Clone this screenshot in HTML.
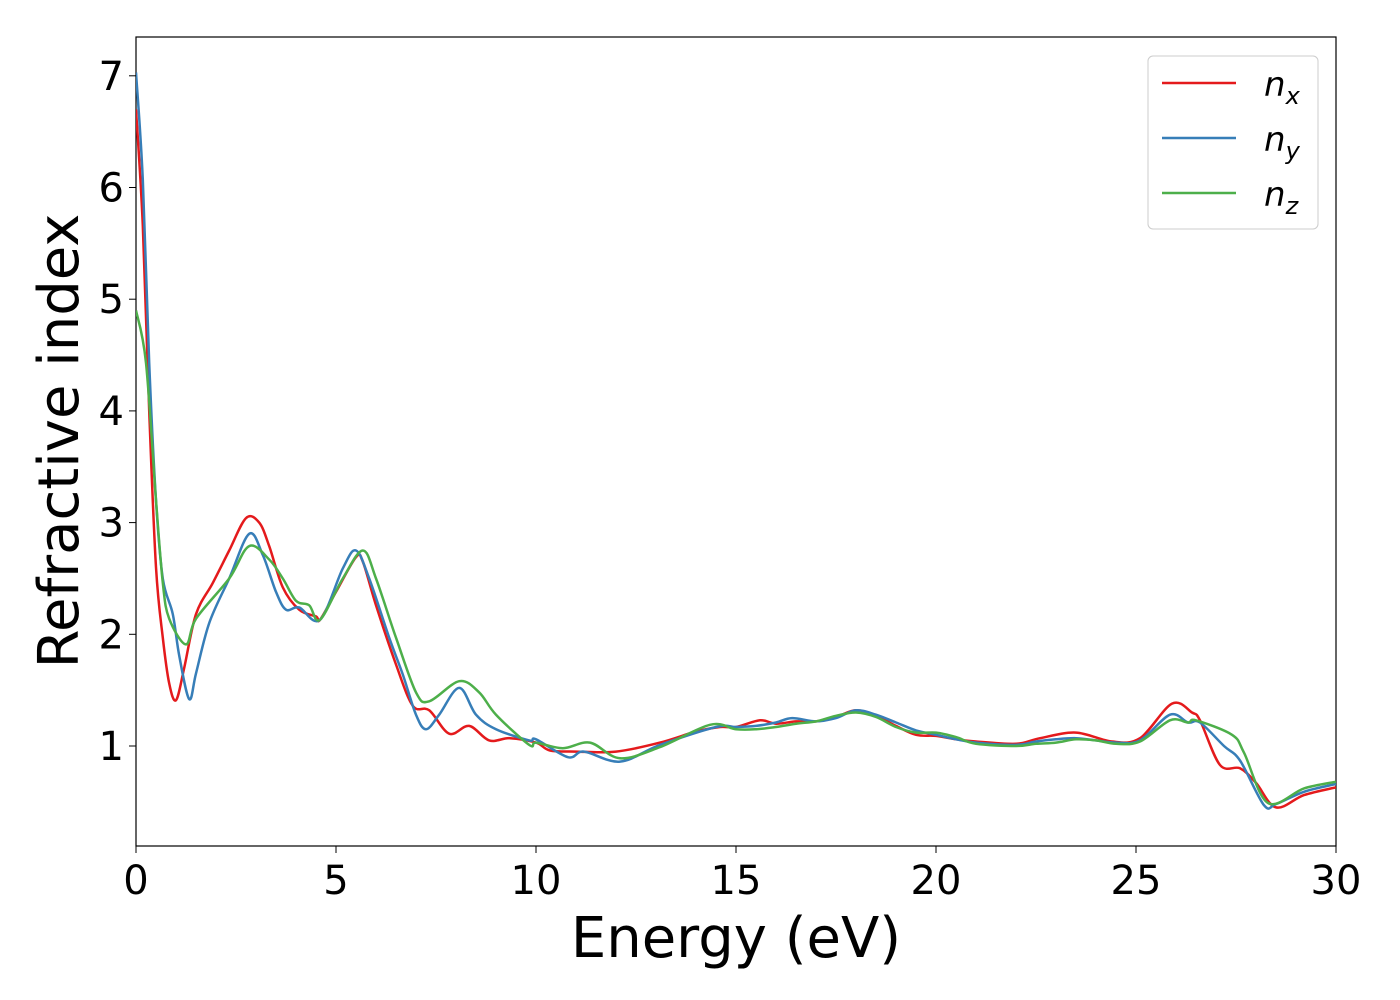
<!DOCTYPE html>
<html><head><meta charset="utf-8"><style>
body{margin:0;background:#fff}
svg{display:block;font-family:"DejaVu Sans","Liberation Sans",sans-serif}
</style></head><body>
<svg id="chart" width="1400" height="1000">
<rect x="136" y="37" width="1200" height="809" fill="#fff" stroke="#000" stroke-width="1.2"/>
<g id="series"></g>
<g id="xticks"></g>
<g id="yticks"></g>
<text x="736" y="957" font-size="56" text-anchor="middle">Energy (eV)</text>
<text transform="translate(78,441) rotate(-90)" font-size="56" text-anchor="middle">Refractive index</text>
<g>
<rect x="1148" y="56" width="170" height="173" rx="5" fill="#fff" stroke="#ccc"/>
<g><line x1="1162" y1="83" x2="1236" y2="83" stroke="#e41a1c" stroke-width="2.5"/><text x="1264" y="96" font-size="34" font-style="italic">n<tspan font-size="24" dy="8">x</tspan></text></g>
<g><line x1="1162" y1="138" x2="1236" y2="138" stroke="#377eb8" stroke-width="2.5"/><text x="1264" y="151" font-size="34" font-style="italic">n<tspan font-size="24" dy="8">y</tspan></text></g>
<g><line x1="1162" y1="193" x2="1236" y2="193" stroke="#4daf4a" stroke-width="2.5"/><text x="1264" y="206" font-size="34" font-style="italic">n<tspan font-size="24" dy="8">z</tspan></text></g>
</g>
</svg>
<script>
const xTicks=[0,5,10,15,20,25,30];
const yTicks=[1,2,3,4,5,6,7];
const nxE=[0,0.17,0.33,0.5,0.67,0.83,1.0,1.2,1.5,1.92,2.33,2.75,3.08,3.33,3.67,4.08,4.5,4.6,5.0,5.5,5.67,6.0,6.5,6.92,7.33,7.83,8.33,8.83,9.35,10.0,10.35,11.0,12.0,13.1,14.0,14.6,15,15.6,16,16.5,17,17.5,18,18.5,19,19.5,20,20.5,21,22,22.6,23.5,24.4,25.1,25.9,26.4,26.6,27.1,27.6,28.0,28.5,29.2,30];
const nxV=[6.7,5.66,4.0,2.6,1.97,1.56,1.41,1.69,2.18,2.46,2.75,3.04,3.0,2.79,2.42,2.22,2.16,2.13,2.38,2.69,2.65,2.26,1.73,1.36,1.32,1.11,1.18,1.05,1.07,1.03,0.96,0.95,0.95,1.03,1.13,1.17,1.17,1.23,1.2,1.22,1.22,1.26,1.32,1.27,1.18,1.1,1.09,1.06,1.04,1.02,1.07,1.12,1.04,1.07,1.38,1.3,1.23,0.83,0.8,0.67,0.45,0.56,0.63];
const nyE=[0,0.17,0.33,0.5,0.67,0.92,1.08,1.33,1.5,1.83,2.33,2.83,3.17,3.5,3.75,4.08,4.6,5.17,5.5,5.83,6.33,6.67,7.0,7.25,7.58,8.08,8.5,9.0,9.83,10.0,10.8,11.2,12.1,13.1,14.5,15,15.5,16,16.4,17,17.5,18,18.5,19,19.5,20,20.5,21,22,22.5,23,23.5,24,24.5,25.1,25.85,26.3,26.6,27.2,27.6,28.2,28.5,29.2,30];
const nyV=[7.03,6.07,4.43,3.2,2.5,2.18,1.81,1.42,1.65,2.1,2.5,2.9,2.71,2.38,2.22,2.24,2.13,2.59,2.75,2.5,1.97,1.64,1.28,1.15,1.28,1.52,1.28,1.15,1.05,1.06,0.9,0.95,0.86,1.01,1.17,1.17,1.18,1.21,1.25,1.22,1.25,1.32,1.28,1.21,1.14,1.1,1.06,1.03,1.01,1.04,1.06,1.07,1.05,1.03,1.05,1.28,1.21,1.21,1.0,0.87,0.47,0.48,0.59,0.66];
const nzE=[0,0.25,0.5,0.67,0.83,1.25,1.5,2.33,2.83,3.33,3.67,4.0,4.33,4.6,5.17,5.67,6.0,6.5,7.0,7.33,8.08,8.58,9.0,9.83,10.0,10.67,11.35,12.1,13.1,14.35,15,15.5,16,16.5,17,17.5,18,18.5,19,19.5,20,20.5,21,22,22.5,23,23.5,24,24.5,25.1,25.85,26.3,26.5,27.4,27.7,28.3,29.2,30];
const nzV=[4.9,4.43,3.2,2.46,2.14,1.91,2.14,2.5,2.79,2.67,2.5,2.3,2.26,2.13,2.5,2.75,2.5,1.97,1.48,1.4,1.58,1.48,1.28,1.01,1.03,0.98,1.03,0.89,0.99,1.19,1.15,1.15,1.17,1.2,1.22,1.27,1.3,1.26,1.17,1.12,1.12,1.08,1.02,1.0,1.02,1.03,1.06,1.05,1.02,1.04,1.23,1.21,1.23,1.1,0.94,0.49,0.62,0.68];
const NS='http://www.w3.org/2000/svg';
function xs(e){return 136+e*40;}
function ys(v){return 746-(v-1)*111.7;}
function smooth(E,V){
  const p=E.map((e,i)=>[xs(e),ys(V[i])]);
  let d='M'+p[0][0]+','+p[0][1];
  for(let i=0;i<p.length-1;i++){
    const p0=p[Math.max(0,i-1)],p1=p[i],p2=p[i+1],p3=p[Math.min(p.length-1,i+2)];
    const c1=[p1[0]+(p2[0]-p0[0])/6,p1[1]+(p2[1]-p0[1])/6];
    const c2=[p2[0]-(p3[0]-p1[0])/6,p2[1]-(p3[1]-p1[1])/6];
    d+=`C${c1[0].toFixed(1)},${c1[1].toFixed(1)} ${c2[0].toFixed(1)},${c2[1].toFixed(1)} ${p2[0].toFixed(1)},${p2[1].toFixed(1)}`;
  }
  return d;
}
const sg=document.getElementById('series');
[[nxE,nxV,'#e41a1c','line-nx'],[nyE,nyV,'#377eb8','line-ny'],[nzE,nzV,'#4daf4a','line-nz']].forEach(s=>{
  const p=document.createElementNS(NS,'path');
  p.setAttribute('d',smooth(s[0],s[1]));
  p.setAttribute('fill','none');p.setAttribute('stroke',s[2]);p.setAttribute('stroke-width','2.5');
  
  
  sg.appendChild(p);
});
const clip=document.createElementNS(NS,'clipPath');clip.id='cp';
const cr=document.createElementNS(NS,'rect');cr.setAttribute('x',136);cr.setAttribute('y',37);cr.setAttribute('width',1200);cr.setAttribute('height',809);
clip.appendChild(cr);document.getElementById('chart').appendChild(clip);sg.setAttribute('clip-path','url(#cp)');
const xg=document.getElementById('xticks');
xTicks.forEach(t=>{
  const l=document.createElementNS(NS,'line');
  l.setAttribute('x1',xs(t));l.setAttribute('x2',xs(t));l.setAttribute('y1',846);l.setAttribute('y2',853);l.setAttribute('stroke','#000');
  
  
  xg.appendChild(l);
  const tx=document.createElementNS(NS,'text');
  tx.setAttribute('x',xs(t));tx.setAttribute('y',894);tx.setAttribute('font-size','40');tx.setAttribute('text-anchor','middle');
  tx.textContent=t;
  
  
  xg.appendChild(tx);
});
const yg=document.getElementById('yticks');
yTicks.forEach(t=>{
  const l=document.createElementNS(NS,'line');
  l.setAttribute('x1',129);l.setAttribute('x2',136);l.setAttribute('y1',ys(t));l.setAttribute('y2',ys(t));l.setAttribute('stroke','#000');
  
  
  yg.appendChild(l);
  const tx=document.createElementNS(NS,'text');
  tx.setAttribute('x',124);tx.setAttribute('y',ys(t)+14);tx.setAttribute('font-size','40');tx.setAttribute('text-anchor','end');
  tx.textContent=t;
  
  
  yg.appendChild(tx);
});
</script>
</body></html>
